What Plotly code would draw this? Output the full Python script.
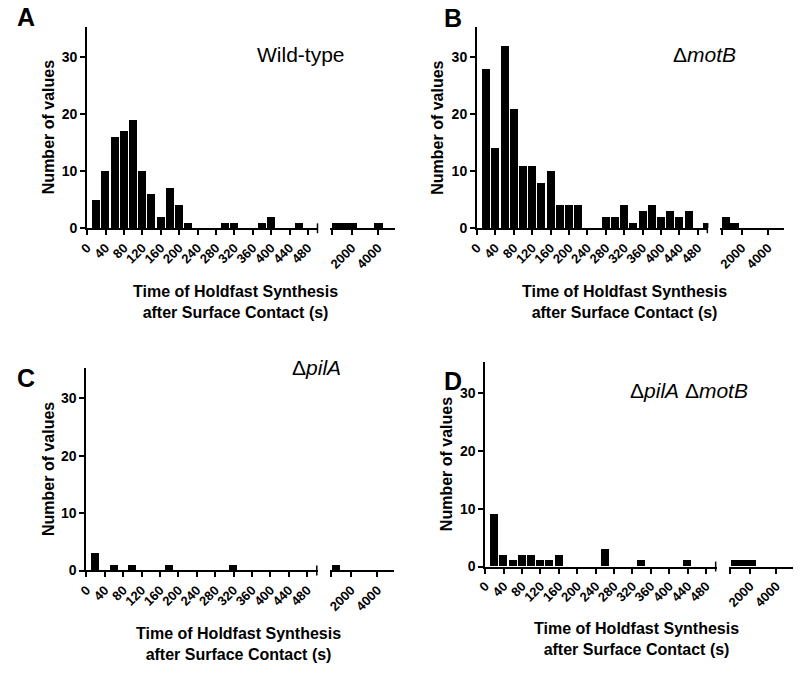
import plotly.graph_objects as go

# ---------------- data ----------------
TIME_BINS_S = [20, 40, 60, 80, 100, 120, 140, 160, 180, 200, 220, 240, 260,
               280, 300, 320, 340, 360, 380, 400, 420, 440, 460, 480, 500]
LONG_BINS_S = [825, 1475, 2125, 2775, 3425, 4075, 4725]

WT_COUNTS = [5, 10, 16, 17, 19, 10, 6, 2, 7, 4, 1, 0, 0,
             0, 1, 1, 0, 0, 1, 2, 0, 0, 1, 0, 0]
WT_LONG = [1, 1, 1, 0, 0, 1, 0]

MOTB_COUNTS = [28, 14, 32, 21, 11, 11, 8, 10, 4, 4, 4, 0, 0,
               2, 2, 4, 1, 3, 4, 2, 3, 2, 3, 0, 1]
MOTB_LONG = [2, 1, 0, 0, 0, 0, 0]

PILA_COUNTS = [3, 0, 1, 0, 1, 0, 0, 0, 1, 0, 0, 0, 0,
               0, 0, 1, 0, 0, 0, 0, 0, 0, 0, 0, 0]
PILA_LONG = [1, 0, 0, 0, 0, 0, 0]

PILA_MOTB_COUNTS = [9, 2, 1, 2, 2, 1, 1, 2, 0, 0, 0, 0, 3,
                    0, 0, 0, 1, 0, 0, 0, 0, 1, 0, 0, 0]
PILA_MOTB_LONG = [1, 1, 1, 0, 0, 0, 0]

LEFT_TICKS = [0, 40, 80, 120, 160, 200, 240, 280, 320, 360, 400, 440, 480]
RIGHT_TICKS = [500, 2000, 4000]
RIGHT_TICK_TEXT = ["", "2000", "4000"]
Y_TICKS = [0, 10, 20, 30]

PANEL_LETTERS = ["A", "B", "C", "D"]
GENOTYPES = ["Wild-type", "Δ<i>motB</i>", "Δ<i>pilA</i>", "Δ<i>pilA</i> Δ<i>motB</i>"]
X_TITLE = "Time of Holdfast Synthesis<br>after Surface Contact (s)"
Y_TITLE = "Number of values"

SERIES = [(WT_COUNTS, WT_LONG), (MOTB_COUNTS, MOTB_LONG),
          (PILA_COUNTS, PILA_LONG), (PILA_MOTB_COUNTS, PILA_MOTB_LONG)]

# ---------------- geometry (pixels) ----------------
W, H = 800, 679
FONT = "Arial, 'Liberation Sans', sans-serif"
LEFT_RANGE = [0, 503]
RIGHT_RANGE = [368, 5255]
Y_RANGE = [0, 35.3]
LEFT_W = 234
RIGHT_START = 246
RIGHT_END = 311

GEOM = [
    dict(yx=79.0, base=231.0, ppu=5.77, letter=(17.5, 17.5), geno=(295, 55),
         xt=(229.5, 305.5), yt=40),
    dict(yx=473.3, base=231.0, ppu=5.77, letter=(449, 18), geno=(703, 55),
         xt=(622, 305.5), yt=434),
    dict(yx=78.3, base=577.3, ppu=5.81, letter=(17, 383), geno=(311, 372),
         xt=(232, 651.5), yt=39.3),
    dict(yx=481.7, base=573.3, ppu=5.853, letter=(449, 386), geno=(688, 395),
         xt=(635, 646.5), yt=442.7),
]


def fx(px):
    return px / W


def fy(py):
    return 1 - py / H


fig = go.Figure()
layout = dict(
    width=W, height=H, margin=dict(l=0, r=0, t=0, b=0),
    paper_bgcolor="white", plot_bgcolor="white", showlegend=False,
    font=dict(family=FONT, color="black"),
    bargap=0, annotations=[], shapes=[],
)

xtickfont = dict(family=FONT, size=13, color="black", weight="bold")
ytickfont = dict(family=FONT, size=14, color="black", weight="bold")

for i, g in enumerate(GEOM):
    xl = 2 * i + 1
    xr = 2 * i + 2
    yi = i + 1
    xl_name = "xaxis" if xl == 1 else f"xaxis{xl}"
    xr_name = f"xaxis{xr}"
    y_name = "yaxis" if yi == 1 else f"yaxis{yi}"
    xl_ref = "x" if xl == 1 else f"x{xl}"
    xr_ref = f"x{xr}"
    y_ref = "y" if yi == 1 else f"y{yi}"

    top = g["base"] - (Y_RANGE[1] - Y_RANGE[0]) * g["ppu"]
    ydom = [fy(g["base"]), fy(top)]

    counts, long_counts = SERIES[i]
    fig.add_trace(go.Bar(x=TIME_BINS_S, y=counts, width=17, xaxis=xl_ref, yaxis=y_ref,
                         marker=dict(color="black", line=dict(width=0))))
    fig.add_trace(go.Bar(x=LONG_BINS_S, y=long_counts, width=650, xaxis=xr_ref, yaxis=y_ref,
                         marker=dict(color="black", line=dict(width=0))))

    common_x = dict(showline=True, linecolor="black", linewidth=2, ticks="outside",
                    ticklen=5, tickwidth=1.5, tickcolor="black", tickangle=-45,
                    tickfont=xtickfont, showgrid=False, zeroline=False, anchor=y_ref)
    layout[xl_name] = dict(common_x, domain=[fx(g["yx"]), fx(g["yx"] + LEFT_W)],
                           range=LEFT_RANGE, tickvals=LEFT_TICKS,
                           ticktext=[str(v) for v in LEFT_TICKS], tickmode="array")
    layout[xr_name] = dict(common_x, domain=[fx(g["yx"] + RIGHT_START), fx(g["yx"] + RIGHT_END)],
                           range=RIGHT_RANGE, tickvals=RIGHT_TICKS, ticktext=RIGHT_TICK_TEXT,
                           tickmode="array")
    layout[y_name] = dict(domain=ydom, range=Y_RANGE, anchor=xl_ref, showline=True,
                          linecolor="black", linewidth=2, ticks="outside", ticklen=5,
                          tickwidth=1.5, tickcolor="black", tickvals=Y_TICKS,
                          tickfont=ytickfont, showgrid=False, zeroline=False)

    # break mark at the end of the short-time segment
    bx = g["yx"] + LEFT_W - 1
    layout["shapes"].append(dict(type="line", xref="paper", yref="paper",
                                 x0=fx(bx), x1=fx(bx), y0=fy(g["base"] - 5), y1=fy(g["base"] + 5),
                                 line=dict(color="black", width=1.5)))

    layout["annotations"].append(dict(text=PANEL_LETTERS[i], xref="paper", yref="paper",
                                      x=fx(g["letter"][0]), y=fy(g["letter"][1]),
                                      xanchor="center", yanchor="middle", showarrow=False,
                                      font=dict(family=FONT, size=25, color="black", weight="bold")))
    layout["annotations"].append(dict(text=GENOTYPES[i], xref="paper", yref="paper",
                                      x=fx(g["geno"][0]), y=fy(g["geno"][1]),
                                      xanchor="center", yanchor="middle", showarrow=False,
                                      font=dict(family=FONT, size=21, color="black")))
    layout["annotations"].append(dict(text=X_TITLE, xref="paper", yref="paper",
                                      x=fx(g["xt"][0]), y=fy(g["xt"][1]),
                                      xanchor="center", yanchor="middle", showarrow=False,
                                      font=dict(family=FONT, size=16, color="black", weight="bold")))
    layout["annotations"].append(dict(text=Y_TITLE, xref="paper", yref="paper",
                                      x=fx(g["yt"]), y=fy((g["base"] + top) / 2),
                                      xanchor="center", yanchor="middle", showarrow=False,
                                      textangle=-90,
                                      font=dict(family=FONT, size=16, color="black", weight="bold")))

fig.update_layout(**layout)
fig.write_html("out.html", config={"displayModeBar": False},
               post_script="document.body.style.margin='0';document.body.style.overflow='hidden';")
